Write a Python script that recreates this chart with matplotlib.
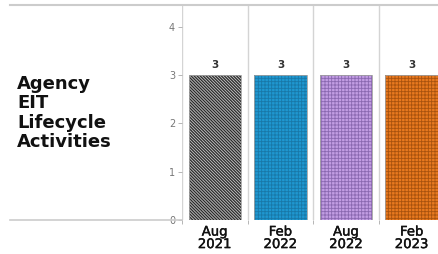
import matplotlib
matplotlib.use("Agg")
import matplotlib.pyplot as plt
from matplotlib.lines import Line2D
import matplotlib.patheffects as pe

plt.rcParams['font.family'] = ['DejaVu Sans']

categories = ["Aug\n2021", "Feb\n2022", "Aug\n2022", "Feb\n2023"]
values = [3, 3, 3, 3]
face_colors = ["#c4c4c4", "#1f97d0", "#c29de3", "#e8791f"]
hatch_colors = ["#2a2a2a", "#1878a8", "#8a68b0", "#a8520e"]
BS = chr(92)
hatches = [BS * 11, "+" * 5, "+" * 5, "+" * 5]
hatch_lw = [0.9, 0.6, 0.6, 0.6]
row_label = "Agency\nEIT\nLifecycle\nActivities"
yticks = [0, 1, 2, 3, 4]

W, H = 438, 254
fig = plt.figure(figsize=(W / 100, H / 100), dpi=100)
left, right, top, bottom = 182, 438, 5, 220
ax = fig.add_axes([left / W, 1 - bottom / H, (right - left) / W, (bottom - top) / H])

x = list(range(len(categories)))
for i, v in enumerate(values):
    plt.rcParams['hatch.linewidth'] = hatch_lw[i]
    ax.bar(x[i], v, width=0.8, color=face_colors[i], edgecolor="none", zorder=2)
    ax.bar(x[i], v, width=0.8, color="none", edgecolor=hatch_colors[i],
           hatch=hatches[i], linewidth=0, zorder=3)
    ax.bar(x[i], v, width=0.8, color="none", edgecolor="#a0a0a0",
           linewidth=0.6, zorder=4)
    ax.text(x[i], v + 0.1, str(v), ha="center", va="bottom", fontsize=7.5,
            fontweight="bold", color="#333333")

ax.set_xlim(-0.5, 3.4)
ax.set_ylim(0, 4.45)
for s in ax.spines.values():
    s.set_visible(False)
for b in [-0.5, 0.5, 1.5, 2.5]:
    ax.axvline(b, color="#d4d4d4", lw=1.0, zorder=1)

ax.set_yticks(yticks)
ax.set_yticklabels([str(t) for t in yticks])
ax.tick_params(axis="y", length=3, width=0.6, color="#aaaaaa", labelsize=7,
               labelcolor="#777777", pad=2)
ax.set_xticks(x)
ax.set_xticklabels(categories)
ax.tick_params(axis="x", length=0, labelsize=9.5, labelcolor="#111111", pad=4)
ax.set_xticks([-0.5, 0.5, 1.5, 2.5], minor=True)
ax.tick_params(axis="x", which="minor", length=3, width=0.6, color="#aaaaaa")
for lbl in ax.get_xticklabels():
    lbl.set_linespacing(0.95)
    lbl.set_path_effects([pe.withStroke(linewidth=0.3, foreground="#111111")])

fig.add_artist(Line2D([10 / W, 1.0], [1 - top / H, 1 - top / H],
                      transform=fig.transFigure, color="#cccccc", lw=1.5))
fig.add_artist(Line2D([10 / W, left / W], [1 - bottom / H, 1 - bottom / H],
                      transform=fig.transFigure, color="#cccccc", lw=1.2))

fig.text(17 / W, 1 - 113 / H, row_label, ha="left", va="center", fontsize=13,
         fontweight="bold", color="#111111", linespacing=1.1)

fig.savefig("out.png", dpi=100)
